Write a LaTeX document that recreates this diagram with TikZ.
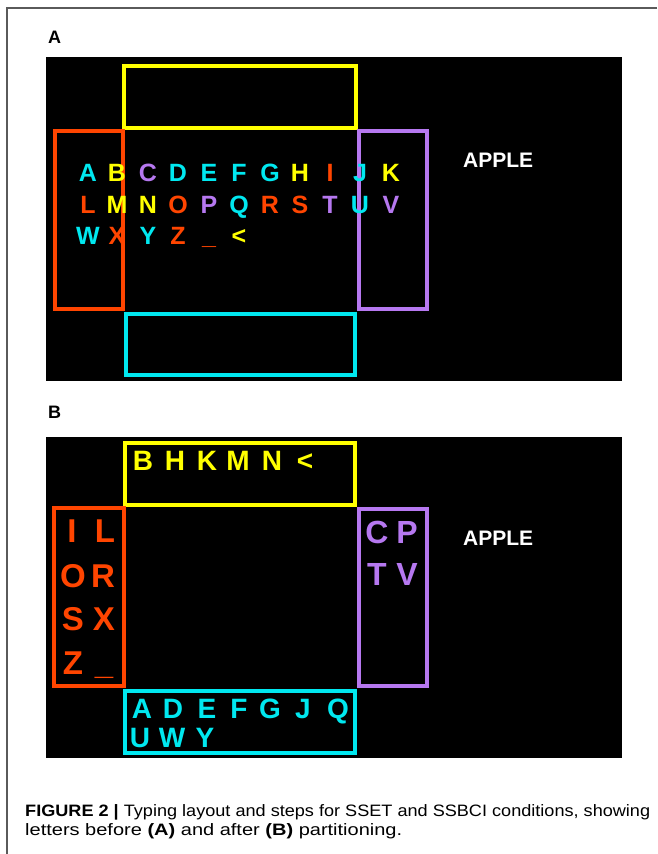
\documentclass[tikz,border=0pt]{standalone}
\usepackage{fontspec}
\setmainfont{Liberation Sans}
\definecolor{kcyan}{RGB}{0,232,240}
\definecolor{kyel}{RGB}{255,255,0}
\definecolor{kred}{RGB}{255,69,0}
\definecolor{kpur}{RGB}{182,120,240}
\definecolor{kframe}{RGB}{90,90,90}
\begin{document}
\begin{tikzpicture}[x=1pt,y=-1pt,
  box/.style={line width=4pt},
  panel/.style={fill=black},
  la/.style={font=\bfseries\fontsize{25}{25}\selectfont, anchor=base, inner sep=0pt},
  lb/.style={font=\bfseries\fontsize{28}{28}\selectfont, anchor=base, inner sep=0pt},
  lr/.style={font=\bfseries\fontsize{33}{33}\selectfont, anchor=base, inner sep=0pt},
  lp/.style={font=\bfseries\fontsize{32}{32}\selectfont, anchor=base, inner sep=0pt},
  word/.style={font=\bfseries\fontsize{21}{21}\selectfont, text=white, anchor=base west, inner sep=0pt},
  plabel/.style={font=\bfseries\fontsize{18}{18}\selectfont, anchor=base west, inner sep=0pt},
  captext/.style={font=\fontsize{16.5}{16.5}\selectfont, anchor=base west, inner sep=0pt}]
\useasboundingbox[fill=white] (0,0) rectangle (657,854);
% outer frame
\draw[kframe, line width=1.2pt] (657,8) -- (7,8) -- (7,854);
% panel labels
\node[plabel] (labA) at (48,43.5) {A};
\node[plabel] (labB) at (48,418.5) {B};
% ---------------- Panel A ----------------
\fill[panel] (46,57) rectangle (622,381);
\draw[box, kyel] (124,66) rectangle (356,128);
\draw[box, kred] (55,131) rectangle (123,309);
\draw[box, kpur] (359,131) rectangle (427,309);
\draw[box, kcyan] (126,314) rectangle (355,375);
\foreach \t/\x/\c [count=\i] in {A/88/kcyan, B/117/kyel, C/148/kpur, D/178/kcyan, E/209/kcyan, F/239/kcyan, G/270/kcyan, H/300/kyel, I/330/kred, J/360/kcyan, K/391/kyel}
  \node[la, text=\c] (ra\i) at (\x,181.5) {\t};
\foreach \t/\x/\c [count=\i] in {L/88/kred, M/117/kyel, N/148/kyel, O/178/kred, P/209/kpur, Q/239/kcyan, R/270/kred, S/300/kred, T/330/kpur, U/360/kcyan, V/391/kpur}
  \node[la, text=\c] (rb\i) at (\x,213) {\t};
\foreach \t/\x/\c [count=\i] in {W/88/kcyan, X/117/kred, Y/148/kcyan, Z/178/kred, \_/209/kred, </239/kyel}
  \node[la, text=\c] (rc\i) at (\x,244.5) {\t};
\node[word] (appleA) at (463,167.5) {APPLE};
% ---------------- Panel B ----------------
\fill[panel] (46,437) rectangle (622,758);
\draw[box, kyel] (125,443) rectangle (355,505);
\draw[box, kred] (54,508) rectangle (124,686);
\draw[box, kpur] (359,509) rectangle (427,686);
\draw[box, kcyan] (125,691) rectangle (355,753);
\foreach \t/\x [count=\i] in {B/143, H/175, K/207, M/238, N/272, </305}
  \node[lb, text=kyel] (by\i) at (\x,470) {\t};
\foreach \t/\x/\y [count=\i] in {I/72/542, L/105/542, O/73/587, R/103/587, S/73/630, X/104/630, Z/73/674, \_/104/674}
  \node[lr, text=kred] (br\i) at (\x,\y) {\t};
\foreach \t/\x/\y [count=\i] in {C/377/543, P/407/543, T/377/585, V/407/585}
  \node[lp, text=kpur] (bp\i) at (\x,\y) {\t};
\foreach \t/\x/\y [count=\i] in {A/142/718, D/173/718, E/207/718, F/239/718, G/270/718, J/303/718, Q/338/718, U/140/747, W/172/747, Y/205/747}
  \node[lb, text=kcyan] (bc\i) at (\x,\y) {\t};
\node[word] (appleB) at (463,545) {APPLE};
% ---------------- Caption ----------------
\node[captext] (cap1) at (25,816.5) {\resizebox{625pt}{\height}{\textbf{FIGURE 2 |} Typing layout and steps for SSET and SSBCI conditions, showing}};
\node[captext] (cap2) at (25,835.5) {\resizebox{377pt}{\height}{letters before \textbf{(A)} and after \textbf{(B)} partitioning.}};
\end{tikzpicture}
\end{document}
